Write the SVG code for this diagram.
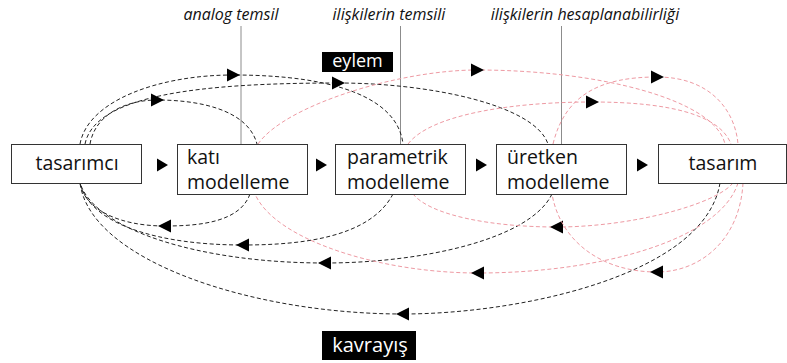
<svg xmlns="http://www.w3.org/2000/svg" width="787" height="363" viewBox="0 0 787 363">
<defs>
<style>
.box{fill:#fff;stroke:#333;stroke-width:1}
.lbl{font-family:"Open Sans","Liberation Sans",sans-serif;font-size:19.5px;fill:#111}
.mid{text-anchor:middle}
.cap{font-family:"Open Sans","Liberation Sans",sans-serif;font-style:italic;font-size:16px;fill:#111;text-anchor:middle}
.tag{fill:#000}
.tagt{font-family:"Open Sans","Liberation Sans",sans-serif;fill:#fff;text-anchor:middle}
.guide{stroke:#8c8c8c;stroke-width:1;fill:none}
.blk{fill:none;stroke:#222;stroke-width:1;stroke-dasharray:4 2.5;marker-mid:url(#tri)}
.pnk{fill:none;stroke:#ee9aa3;stroke-width:1;stroke-dasharray:4 2.5;marker-mid:url(#tri)}
</style>
<marker id="tri" viewBox="-7 -7 14 14" markerWidth="14" markerHeight="14" markerUnits="userSpaceOnUse" orient="auto" refX="0" refY="0"><path d="M-6,-6.5 L7,0 L-6,6.5 Z" fill="#000"/></marker>
<path id="flow" d="M-5,-6.5 L6,0 L-5,6.5 Z" fill="#000"/>
</defs>
<rect width="787" height="363" fill="#fff"/>

<g id="guides">
<line class="guide" x1="241" y1="26" x2="241" y2="144"/>
<line class="guide" x1="400.5" y1="26" x2="400.5" y2="144"/>
<line class="guide" x1="561.5" y1="26" x2="561.5" y2="144"/>
<text class="cap" x="231" y="20">analog temsil</text>
<text class="cap" x="389" y="20">ilişkilerin temsili</text>
<text class="cap" x="585" y="20">ilişkilerin hesaplanabilirliği</text>
</g>

<g id="connectors">
<path class="blk" d="M80,144 C88,100 160,75 233,75 C340,75 398,100 403,144"/>
<path class="blk" d="M85,144 C95,95 200,83 338,83 C430,83 535,105 548,144"/>
<path class="blk" d="M90,144 C95,115 125,100 157,100 C200,100 248,110 257,144"/>
<path class="blk" d="M250,194 C240,222 200,226 165,226 C120,226 85,210 80,183"/>
<path class="blk" d="M393,194 C370,238 300,245 243,245 C160,245 90,225 80,183"/>
<path class="blk" d="M552,194 C530,240 420,263 325,263 C200,263 95,230 80,183"/>
<path class="blk" d="M720,183 C705,275 520,314 403,314 C250,314 90,260 80,183"/>
<path class="pnk" d="M258,144 C285,105 400,70 477,70 C600,70 715,100 725,144"/>
<path class="pnk" d="M408,144 C430,115 510,102 592,102 C670,102 720,115 731,144"/>
<path class="pnk" d="M553,144 C565,95 600,77 657,77 C710,77 735,110 738,144"/>
<path class="pnk" d="M738,183 C720,240 600,273 478,273 C380,273 275,240 255,194"/>
<path class="pnk" d="M733,183 C715,205 630,227 557,227 C490,227 430,215 413,194"/>
<path class="pnk" d="M743,183 C740,240 700,272 657,272 C600,272 560,240 552,194"/>
<use href="#flow" x="162" y="165"/>
<use href="#flow" x="321" y="165"/>
<use href="#flow" x="481" y="165"/>
<use href="#flow" x="642" y="165"/>
</g>

<g id="tasarimci">
<rect class="box" x="11.5" y="144.5" width="130" height="39"/>
<text class="lbl mid" x="77" y="170">tasarımcı</text>
</g>
<g id="kati">
<rect class="box" x="177.5" y="144.5" width="130" height="50"/>
<text class="lbl" x="187" y="164">katı</text>
<text class="lbl" x="187" y="188.5">modelleme</text>
</g>
<g id="parametrik">
<rect class="box" x="335.5" y="144.5" width="130" height="50"/>
<text class="lbl" x="347" y="164">parametrik</text>
<text class="lbl" x="347" y="188.5">modelleme</text>
</g>
<g id="uretken">
<rect class="box" x="496.5" y="144.5" width="130" height="50"/>
<text class="lbl" x="507" y="164">üretken</text>
<text class="lbl" x="507" y="188.5">modelleme</text>
</g>
<g id="tasarim">
<rect class="box" x="658.5" y="144.5" width="128" height="39"/>
<text class="lbl mid" x="723" y="170">tasarım</text>
</g>
<g id="eylem">
<rect class="tag" x="322" y="52" width="71" height="20"/>
<text class="tagt" x="357.5" y="67" font-size="18">eylem</text>
</g>
<g id="kavrayis">
<rect class="tag" x="322" y="331" width="94" height="29"/>
<text class="tagt" x="370" y="352" font-size="20">kavrayış</text>
</g>
</svg>
